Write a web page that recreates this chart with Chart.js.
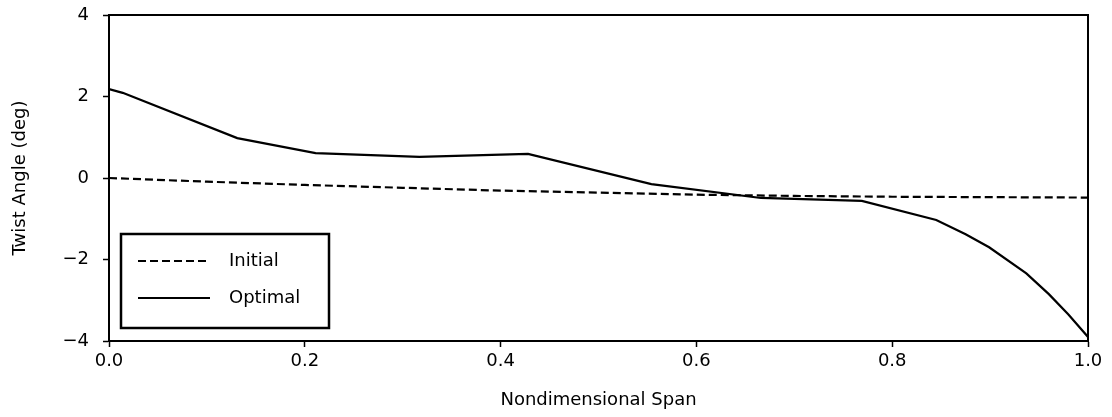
<!DOCTYPE html>
<html>
<head>
<meta charset="utf-8">
<script src="https://cdn.jsdelivr.net/npm/chart.js@4.4.0/dist/chart.umd.min.js"></script>
<style>
  html, body { margin: 0; padding: 0; background: #fff; }
  #wrap { width: 1112px; height: 417px; }
</style>
</head>
<body>
<div id="wrap"><canvas id="twistChart" width="1112" height="417"></canvas></div>
<script>
// Twist angle distribution along the span

const initialSpan  = [0, 0.1, 0.2, 0.3, 0.4, 0.5, 0.6, 0.7, 0.8, 0.9, 1.0];
const initialTwist = [0, -0.09, -0.17, -0.24, -0.31, -0.36, -0.41, -0.44, -0.46, -0.47, -0.48];

const optimalSpan  = [0, 0.014, 0.131, 0.211, 0.317, 0.428, 0.554, 0.666, 0.769, 0.845, 0.875, 0.899, 0.937, 0.96, 0.98, 1.0];
const optimalTwist = [2.18, 2.09, 0.98, 0.61, 0.52, 0.59, -0.15, -0.49, -0.56, -1.03, -1.38, -1.70, -2.34, -2.85, -3.35, -3.9];

const xTicks = [0, 0.2, 0.4, 0.6, 0.8, 1.0];
const yTicks = [-4, -2, 0, 2, 4];

const FONT = "'DejaVu Sans', sans-serif";
const FSIZE = 18;

function toPoints(xs, ys) {
    return xs.map((x, i) => ({ x: x, y: ys[i] }));
}

// frame around the plot area + legend box in the lower left
const framePlugin = {
    id: 'frame',
    afterDraw(chart) {
        const ctx = chart.ctx;
        const a = chart.chartArea;
        ctx.save();
        ctx.strokeStyle = '#000';
        ctx.lineWidth = 2;
        ctx.strokeRect(a.left, a.top, a.right - a.left, a.bottom - a.top);

        // legend
        const bx = 121, by = 234, bw = 208, bh = 94;
        ctx.fillStyle = '#fff';
        ctx.fillRect(bx, by, bw, bh);
        ctx.lineWidth = 2.5;
        ctx.strokeRect(bx, by, bw, bh);
        ctx.font = FSIZE + 'px ' + FONT;
        ctx.textBaseline = 'middle';
        chart.data.datasets.forEach((ds, i) => {
            const y = by + 27 + i * 37;
            ctx.beginPath();
            ctx.setLineDash(ds.borderDash || []);
            ctx.lineWidth = ds.borderWidth;
            ctx.strokeStyle = ds.borderColor;
            ctx.moveTo(138, y);
            ctx.lineTo(210, y);
            ctx.stroke();
            ctx.setLineDash([]);
            ctx.fillStyle = '#000';
            ctx.fillText(ds.label, 229, y);
        });
        ctx.restore();
    }
};

const ctx = document.getElementById('twistChart').getContext('2d');
new Chart(ctx, {
    type: 'line',
    data: {
        datasets: [{
            label: 'Initial',
            data: toPoints(initialSpan, initialTwist),
            borderColor: '#000',
            borderWidth: 2.2,
            borderDash: [8, 4],
            pointRadius: 0,
            tension: 0,
            fill: false
        }, {
            label: 'Optimal',
            data: toPoints(optimalSpan, optimalTwist),
            borderColor: '#000',
            borderWidth: 2.2,
            pointRadius: 0,
            tension: 0,
            fill: false
        }]
    },
    options: {
        responsive: false,
        animation: false,
        layout: { padding: { top: 15, right: 24, left: 0, bottom: 0 } },
        plugins: {
            legend: { display: false },
            tooltip: { enabled: false }
        },
        scales: {
            x: {
                type: 'linear',
                min: 0,
                max: 1,
                afterBuildTicks: s => { s.ticks = xTicks.map(v => ({ value: v })); },
                afterFit: s => { s.height = 76; s.paddingLeft = 0; s.paddingRight = 0; },
                ticks: {
                    color: '#000',
                    font: { family: FONT, size: FSIZE },
                    padding: 4,
                    maxRotation: 0,
                    callback: v => v.toFixed(1)
                },
                grid: { drawOnChartArea: false, tickLength: 6, tickColor: '#000', tickWidth: 1.5 },
                border: { display: true, color: '#000', width: 2 },
                title: {
                    display: true,
                    text: 'Nondimensional Span',
                    color: '#000',
                    font: { family: FONT, size: FSIZE },
                    padding: { top: 4, bottom: 6 }
                }
            },
            y: {
                type: 'linear',
                min: -4,
                max: 4,
                afterBuildTicks: s => { s.ticks = yTicks.map(v => ({ value: v })); },
                afterFit: s => { s.width = 109; s.paddingTop = 0; s.paddingBottom = 0; },
                ticks: {
                    color: '#000',
                    font: { family: FONT, size: FSIZE },
                    padding: 14,
                    callback: v => (v < 0 ? '\u2212' + Math.abs(v) : String(v))
                },
                grid: { drawOnChartArea: false, tickLength: 6, tickColor: '#000', tickWidth: 1.5 },
                border: { display: true, color: '#000', width: 2 },
                title: {
                    display: true,
                    text: 'Twist Angle (deg)',
                    color: '#000',
                    font: { family: FONT, size: FSIZE },
                    padding: { top: 10, bottom: 0 }
                }
            }
        }
    },
    plugins: [framePlugin]
});
</script>
</body>
</html>
